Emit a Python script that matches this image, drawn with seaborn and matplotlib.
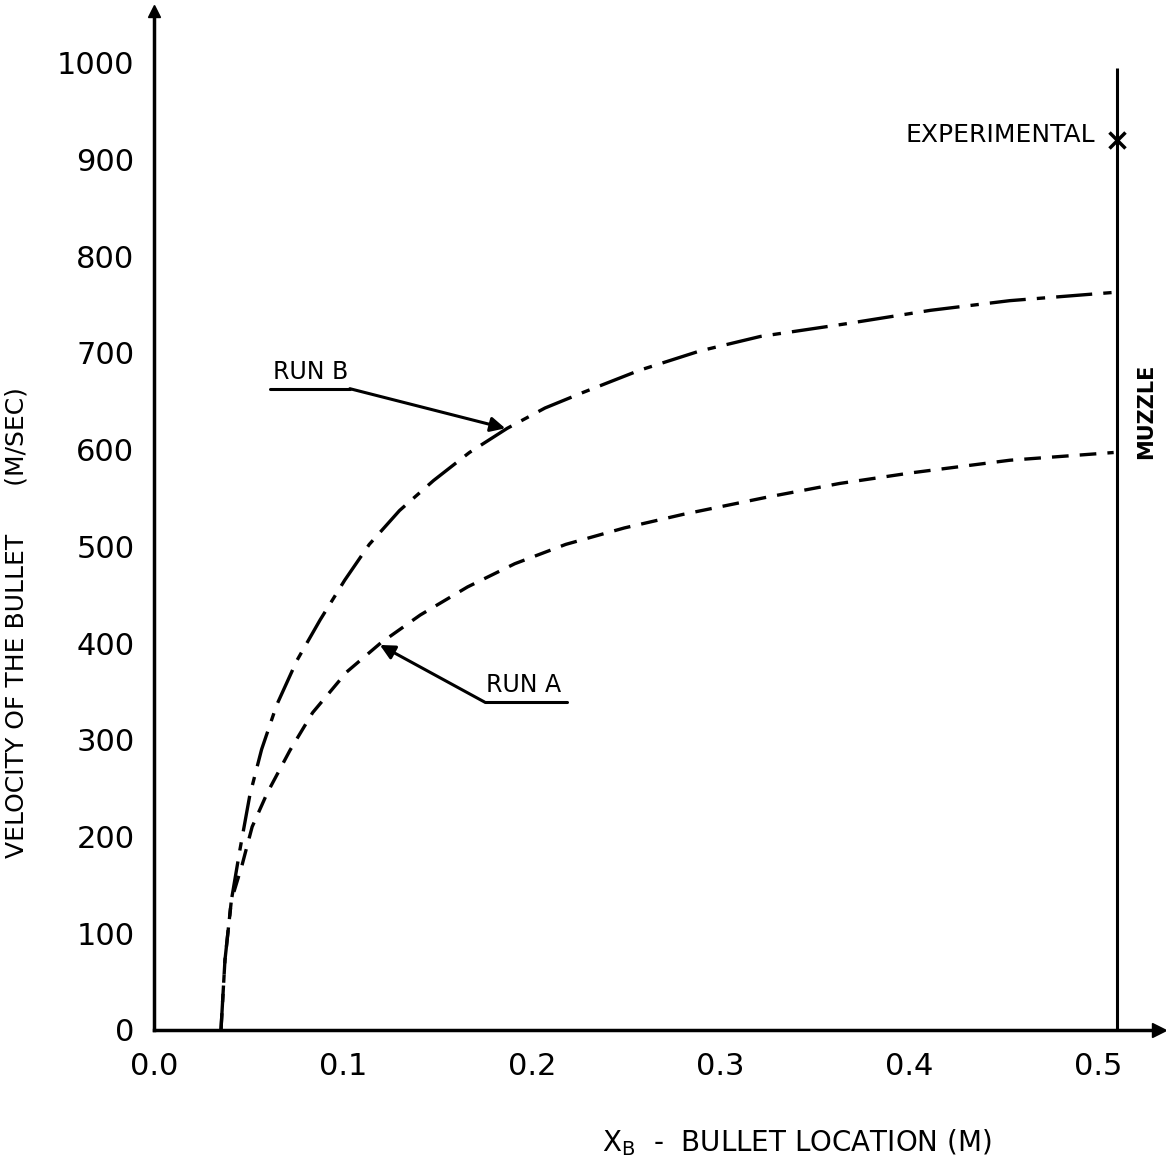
import matplotlib
matplotlib.use("Agg")
import matplotlib.pyplot as plt
import numpy as np
import seaborn as sns
import pandas as pd

# data
run_b_x = [0.0355, 0.0376, 0.041, 0.0455, 0.0508, 0.057, 0.065, 0.0757, 0.088, 0.101,
           0.114, 0.130, 0.148, 0.167, 0.187, 0.207, 0.227, 0.257, 0.289, 0.321,
           0.366, 0.411, 0.453, 0.511]
run_b_v = [0, 72, 134, 186, 243, 290, 336, 382, 424, 465,
           502, 537, 568, 597, 622, 643, 659, 682, 702, 717,
           730, 744, 754, 763]

run_a_x = [0.0355, 0.0376, 0.041, 0.0466, 0.052, 0.060, 0.072, 0.084, 0.102, 0.120,
           0.141, 0.166, 0.191, 0.218, 0.249, 0.280, 0.325, 0.363, 0.401, 0.453, 0.508]
run_a_v = [0, 72, 134, 170, 210, 245, 289, 328, 370, 400,
           429, 458, 482, 502, 519, 533, 551, 565, 576, 589, 597]

muzzle_x = 0.51
exp_x, exp_v = 0.51, 920

y_ticks = list(range(0, 1001, 100))
x_ticks = [0.0, 0.1, 0.2, 0.3, 0.4, 0.5]
x_tick_labels = ["0.0", "0.1", "0.2", "0.3", "0.4", "0.5"]

sns.set_style("white")
plt.rcParams["font.family"] = ["DejaVu Sans"]
plt.rcParams["text.color"] = "black"
plt.rcParams["axes.labelcolor"] = "black"
plt.rcParams["lines.scale_dashes"] = False

df_b = pd.DataFrame({"x": run_b_x, "v": run_b_v})
df_a = pd.DataFrame({"x": run_a_x, "v": run_a_v})

fig = plt.figure(figsize=(11.66, 11.69), dpi=100)
ax = fig.add_axes([0.132, 0.119, 0.862, 0.872])

sns.lineplot(data=df_b, x="x", y="v", ax=ax, color="black", lw=2.4,
             sort=False, estimator=None)
ax.lines[-1].set_dashes([26, 8, 6, 8])
sns.lineplot(data=df_a, x="x", y="v", ax=ax, color="black", lw=2.4,
             sort=False, estimator=None)
ax.lines[-1].set_dashes([12, 8])

# muzzle line and experimental point
ax.vlines(muzzle_x, 0, 995, color="black", lw=2.2)
ax.plot([exp_x], [exp_v], marker="x", color="black", ms=11, mew=2.5)
ax.text(0.498, 925, "EXPERIMENTAL", ha="right", va="center", fontsize=18)
ax.text(0.525, 640, "MUZZLE", rotation=90, ha="center", va="center",
        fontsize=15, fontweight="bold")

# run labels with leaders
ax.text(0.063, 668, "RUN B", fontsize=17, ha="left", va="bottom")
ax.plot([0.0614, 0.1037], [663, 663], color="black", lw=2.2)
ax.annotate("", xy=(0.186, 622), xytext=(0.1037, 663),
            arrowprops=dict(arrowstyle="-|>", color="black", lw=2.2,
                            mutation_scale=22, shrinkA=0, shrinkB=0))
ax.text(0.176, 344, "RUN A", fontsize=17, ha="left", va="bottom")
ax.plot([0.175, 0.2185], [339, 339], color="black", lw=2.2)
ax.annotate("", xy=(0.1196, 398), xytext=(0.175, 339),
            arrowprops=dict(arrowstyle="-|>", color="black", lw=2.2,
                            mutation_scale=22, shrinkA=0, shrinkB=0))

ax.set_xlim(0, 0.532)
ax.set_ylim(0, 1054)
sns.despine(ax=ax)
for s in ["left", "bottom"]:
    ax.spines[s].set_linewidth(2.5)
    ax.spines[s].set_color("black")
ax.plot(1, 0, ">k", ms=10, transform=ax.transAxes, clip_on=False)
ax.plot(0, 1, "^k", ms=8, transform=ax.transAxes, clip_on=False)

ax.set_yticks(y_ticks)
ax.set_yticklabels([str(t) for t in y_ticks])
ax.set_xticks(x_ticks)
ax.set_xticklabels(x_tick_labels)
ax.set_xticks(np.arange(0.05, 0.51, 0.1), minor=True)
ax.tick_params(axis="both", which="major", direction="in", length=9, width=2,
               labelsize=22, color="black", labelcolor="black")
ax.tick_params(axis="y", which="major", pad=14)
ax.tick_params(axis="x", which="major", pad=16)
ax.tick_params(axis="x", which="minor", direction="in", length=7, width=2, color="black")

ax.set_xlabel(r"X$_\mathregular{B}$  -  BULLET LOCATION (M)", fontsize=20)
ax.xaxis.set_label_coords(0.64, -0.095)
ax.set_ylabel("VELOCITY OF THE BULLET      (M/SEC)", fontsize=18)
ax.yaxis.set_label_coords(-0.125, 0.40)

fig.savefig("out.png", dpi=100)
